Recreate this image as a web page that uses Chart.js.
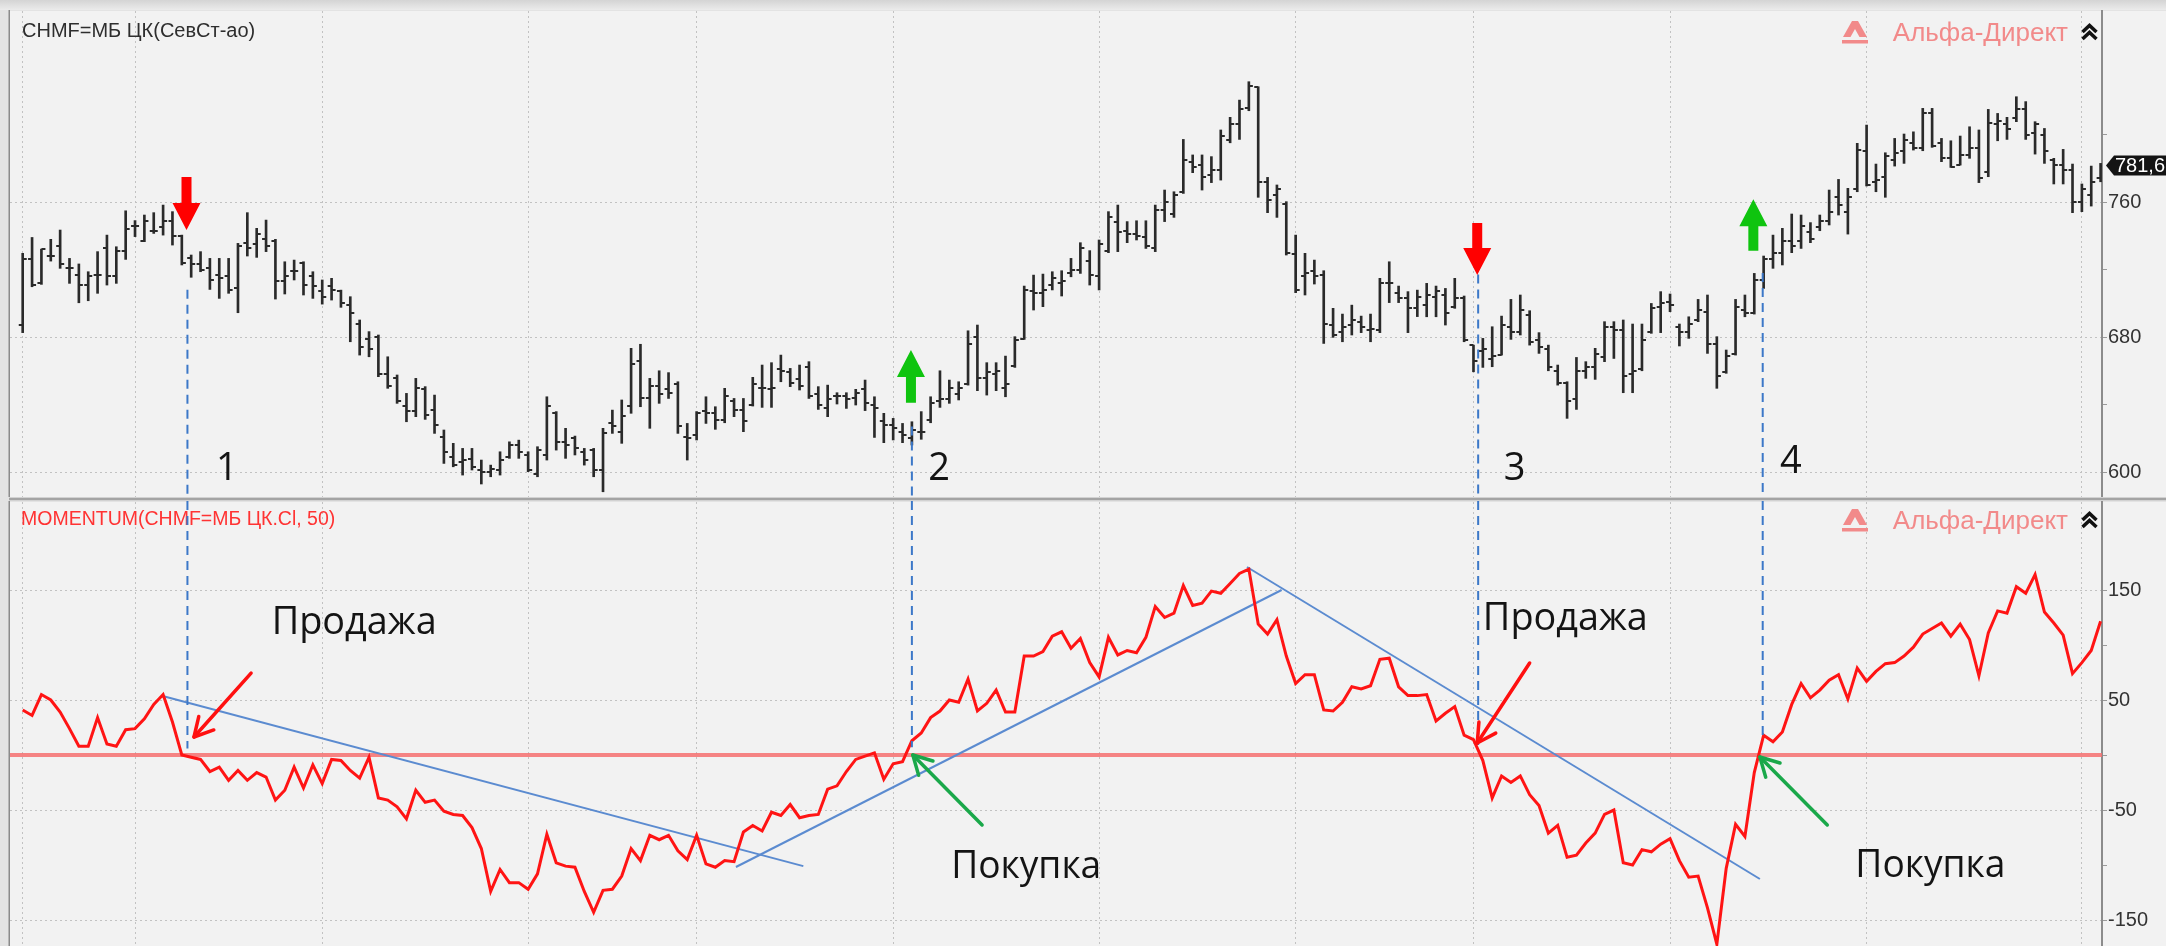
<!DOCTYPE html>
<html lang="ru">
<head>
<meta charset="utf-8">
<title>CHMF Momentum</title>
<script src="https://cdn.jsdelivr.net/npm/chart.js@4.4.1/dist/chart.umd.min.js"></script>
<style>
  html, body { margin:0; padding:0; }
  body { width:2166px; height:946px; overflow:hidden; background:#e3e3e3; position:relative; }
  #strip { position:absolute; left:0; top:0; width:2166px; height:10px; background:linear-gradient(#d4d4d4,#ebebeb); }
  #cTop { position:absolute; left:0; top:0; }
  #cBot { position:absolute; left:0; top:501px; }
  #sep { position:absolute; left:9px; top:497px; width:2157px; height:4px;
         background:linear-gradient(#d2d2d2 0 25%, #a4a4a4 25% 75%, #d2d2d2 75% 100%); }
</style>
</head>
<body>
<div id="strip"></div>
<canvas id="cTop" width="2166" height="498"></canvas>
<div id="sep"></div>
<canvas id="cBot" width="2166" height="445"></canvas>
<script>
// ---------------- DATA ----------------
const highs = [729.6,739.0,732.1,737.9,743.4,726.6,723.3,718.7,730.6,740.4,
733.5,754.8,749.0,752.3,753.7,758.2,754.3,740.4,728.6,730.6,
726.6,726.6,726.6,735.5,753.7,744.4,749.3,737.9,724.6,725.6,
724.6,718.7,713.8,714.8,707.8,703.9,690.1,683.2,681.2,668.3,
657.5,646.6,655.5,650.6,645.6,624.9,617.0,614.0,614.0,607.1,
604.1,612.0,617.9,618.9,612.0,615.0,644.6,635.8,625.9,621.3,
614.0,614.0,625.9,636.7,642.7,673.3,675.7,655.5,660.0,658.9,
653.5,628.8,635.8,644.6,638.7,649.6,643.6,643.6,656.1,663.4,
664.8,669.3,661.4,663.4,665.4,650.6,651.5,647.0,647.0,649.0,
654.5,644.6,634.8,631.8,628.8,629.8,635.8,644.6,660.0,654.5,
653.5,683.7,687.1,664.8,664.8,668.7,680.2,710.2,716.7,717.3,
718.7,719.3,726.6,735.9,731.2,737.5,754.3,758.2,748.4,748.9,
748.9,758.2,767.1,766.1,797.1,787.9,787.9,786.9,802.7,810.2,
820.4,831.3,828.3,774.6,770.1,760.2,740.4,729.6,725.6,719.3,
697.0,693.6,698.9,692.4,693.6,714.8,724.6,710.2,706.9,707.8,
711.8,710.2,708.8,714.8,704.3,675.2,679.2,686.1,692.4,702.3,
704.9,695.6,682.6,675.2,663.4,653.5,667.9,665.4,673.3,689.1,
689.1,690.1,687.7,687.7,699.9,706.9,705.5,687.7,692.0,702.3,
704.9,680.2,672.3,702.3,704.9,717.7,728.0,740.4,744.4,752.9,
752.3,747.8,752.3,767.1,773.4,768.1,794.8,805.6,782.5,789.2,
797.7,800.3,801.6,815.5,815.5,797.7,796.3,799.1,804.6,802.7,
814.9,812.5,810.2,822.4,819.5,807.6,803.6,785.9,791.2,782.5,
770.7,781.3,782.9];

const lows = [682.6,709.8,711.2,725.0,720.7,711.8,700.3,701.5,705.9,710.8,
711.8,726.0,739.5,736.5,741.4,740.4,734.5,722.7,715.4,718.7,
708.2,702.9,705.9,694.4,728.0,727.2,730.6,702.5,705.5,713.8,
704.9,702.9,699.5,701.9,697.6,677.2,669.3,668.3,656.5,649.6,
640.7,629.8,632.8,631.2,622.9,605.1,603.1,598.2,601.2,592.9,
597.2,598.2,608.1,608.1,600.2,597.2,607.1,613.0,608.1,610.1,
604.1,597.2,588.3,622.9,617.0,634.8,638.7,625.9,640.7,643.6,
622.9,607.1,619.0,628.8,625.3,629.2,632.8,623.9,639.1,638.3,
638.3,653.5,650.6,648.6,643.6,637.1,632.8,640.3,637.7,639.7,
636.4,620.5,617.4,619.0,617.4,616.0,619.4,629.2,638.3,640.7,
642.7,651.5,648.2,645.6,648.2,644.6,662.0,678.6,696.0,698.0,
707.9,704.3,715.7,717.7,710.8,707.9,730.0,730.6,735.9,737.5,
732.5,730.6,748.4,750.9,765.1,777.4,767.1,771.5,773.0,795.1,
797.1,814.1,762.8,753.7,750.9,728.6,706.3,704.9,711.4,676.2,
679.8,677.2,681.2,682.6,677.2,682.6,700.4,700.4,682.6,692.1,
692.0,692.0,687.1,697.0,677.2,659.4,662.0,662.4,669.3,678.6,
681.2,675.2,670.3,660.0,651.5,631.8,637.1,655.5,654.9,665.4,
667.3,647.0,647.0,660.0,682.2,682.6,695.0,674.7,679.2,689.1,
670.3,649.6,658.5,669.3,692.0,693.6,708.8,720.7,722.7,730.0,
732.5,735.9,743.0,746.4,752.3,741.0,766.1,769.5,766.1,762.8,
781.3,782.9,790.8,790.4,792.4,783.9,780.5,781.9,785.9,771.5,
775.0,796.3,797.1,807.6,797.1,788.4,782.9,770.7,770.7,753.7,
754.3,757.6,772.0];

const opens = [687,726,712,728,734,721,717,711,717,733,
716,731,746,737,743,745,749,740,727,723,
721,717,716,709,736,735,738,737,713,719,
724,716,707,710,707,699,688,679,680,658,
656,639,636,649,637,621,609,606,608,601,
600,601,609,616,610,599,610,635,618,620,
612,613,601,629,624,639,666,644,651,649,
652,621,622,636,635,631,642,637,640,650,
649,661,659,655,662,646,638,645,645,644,
649,640,630,628,624,620,624,631,642,643,
646,652,680,656,658,650,663,679,707,706,
711,712,718,720,725,716,731,748,743,741,
739,733,755,753,766,784,782,776,779,797,
806,816,828,772,764,759,729,716,719,717,
687,683,687,689,684,684,712,706,703,697,
699,704,705,698,703,675,672,667,669.5,686,
683,693,678,673,660,653,643,660,662,668,
686,684,658,661,683,698,701,686,683,690,
695,676,659,670,696,694,714,726,730,737,
737,742,745,749,763,754,768,790,772,775,
785,790,795,792,813,795,786,782,788,792,
778,806,806,810,815,801,800,785,782,779,
760,764,774];

const closes = [726,711,732,728,723,721,711,716,717,716,
731,744,746,749,743,749,740,724,723,720,
714,715,708,734,733,741,734,713,716,719,
711,710,704,708,700,694,674,673,658,651,
642,636,650,634,628,612,604,607,603,600,
602,607,616,612,601,613,639,618,616,614,
607,601,623,627,633,664,644,651,646,647,
627,620,635,635,631,645,637,630,652,650,
650,660,653,651,645,640,643,645,643,647,
641,638,628,626,622,625,624,641,643,650,
650,676,656,659,660,652,678,708,706,708,
715,713,720,733,717,735,751,742,741,740,
734,755,760,764,785,781,775,779,799,806,
815,829,772,761,768,730,708,718,716,688,
681,686,690,686,685,712,712,703,697,704,
705,707,694,703,678,666,673,669,687,683,
696,677,674,662,653,642,660,662,670,686,
684,657,660,678,697,700,699,683,688,696,
676,657,669,698,694,714,726,730,737,734,
746,738,749,754,758,763,791,770,773,787,
789,797,792,813,793,786,781,788,792,774,
807,808,803,815,800,806,790,782,779,760,
768,772,781.6];

const momentum = [41,36,55,50,39,24,8,8,34,10,
8,23,24,33,46,55,30,0,-2,-4,
-15,-11,-23,-14,-23,-16,-20,-41,-32,-11,
-30,-9,-26,-4,-5,-14,-21,-2,-39,-41,
-47,-58,-32,-43,-41,-51,-54,-55,-66,-85,
-124,-104,-116,-116,-122,-108,-72,-98,-101,-102,
-124,-143,-123,-122,-110,-85,-96,-73,-77,-73,
-87,-95,-73,-99,-102,-96,-97,-70,-64,-69,
-52,-55,-45,-57,-55,-54,-31,-28,-15,-4,
-1,2,-22,-8,-6,13,20,34,40,50,
48,69,40,47,59,39,39,90,90,94,
108,112,97,106,84,71,107,91,95,93,
107,135,125,129,154,136,138,149,147,156,
165,169,119,110,123,90,65,73,73,41,
40,48,62,60,63,87,88,62,54,54,
55,31,38,44,18,14,-5,-39,-19,-25,
-19,-36,-46,-71,-64,-93,-91,-80,-71,-54,
-50,-98,-100,-86,-88,-81,-76,-96,-111,-110,
-139,-172,-103,-63,-74,-16,18,12,21,46,
65,52,59,68,73,51,79,67,76,83,
84,90,98,110,115,120,108,119,105,72,
111,131,129,153,147,164,130,120,109,74,
84,95,121.6];

const monthStarts = [0,12,32,54,72,93,115,136,155,176,197,220];
const priceTicks = [600,640,680,720,760,800];
const priceLabels = [600,680,760];
const momTicks = [-150,-100,-50,0,50,100,150];
const momLabels = [-150,-50,50,150];
const zeroLevel = 0;
const lastPrice = 781.6;

// annotation anchors (index, value)
const signalIdx    = [17.6, 95.0, 155.5, 185.9];
const signalPrice  = [708, 627, 717, 718];   // dashed line start in price panel
const signalMom    = [6, 7, 9, 16];          // dashed line end in momentum panel
const blockArrows  = [
  {i:17.5,  tip:743.4, tail:774.8, up:false},
  {i:94.9,  tip:672.3, tail:641.0, up:true},
  {i:155.4, tip:716.7, tail:747.6, up:false},
  {i:184.9, tip:761.6, tail:731.1, up:true}
];
const numLabels = [
  {t:'1', i:21.8, v:595.3}, {t:'2', i:97.9, v:595.3},
  {t:'3', i:159.4, v:595.3}, {t:'4', i:188.9, v:599.4}
];
const trendA = [{x:14.95, y:53.6}, {x:83.4, y:-101}];
const trendB = [{x:76.2, y:-101.8}, {x:134.5, y:150}];
const trendC = [{x:130.8, y:170.9}, {x:185.6, y:-112.7}];
const sellArrows = [{x1:24.4, y1:74.5, x2:18.3, y2:16.4}, {x1:161.0, y1:83.6, x2:155.4, y2:10.9}];
const buyArrows  = [{x1:102.5, y1:-63.6, x2:95.1, y2:0}, {x1:192.8, y1:-63.6, x2:185.6, y2:-1.8}];
const sellTexts = [{i:26.6, v:110}, {i:156.0, v:113.6}];
const buyTexts  = [{i:99.2, v:-111.8}, {i:195.8, v:-110.9}];

// ---------------- helpers ----------------
const X_MIN = -1.357, X_MAX = 222.15;
const GRID = '#c2c2c2';
const PANEL = '#f2f2f2';

function makeTick(side){
  const c = document.createElement('canvas'); c.width = 10; c.height = 2;
  const g = c.getContext('2d'); g.fillStyle = '#2a2a2a';
  g.fillRect(side < 0 ? 1 : 5, 0, 4, 2);
  return c;
}
const tickL = makeTick(-1), tickR = makeTick(1);

function fitText(ctx, text, x, y, w){
  const m = ctx.measureText(text).width;
  ctx.save(); ctx.translate(x, y); ctx.scale(w / m, 1); ctx.fillText(text, 0, 0); ctx.restore();
}

function drawLogo(ctx, b){
  ctx.save();
  const pink = '#f28a8a';
  ctx.fillStyle = pink;
  // stylised "A"
  ctx.beginPath(); ctx.moveTo(1852, b - 20); ctx.lineTo(1858, b - 20); ctx.lineTo(1867, b - 4);
  ctx.lineTo(1843, b - 4); ctx.closePath(); ctx.fill();
  ctx.fillStyle = PANEL;
  ctx.beginPath(); ctx.moveTo(1855, b - 12); ctx.lineTo(1859.5, b - 4); ctx.lineTo(1850.5, b - 4); ctx.closePath(); ctx.fill();
  ctx.fillStyle = pink;
  ctx.fillRect(1842, b - 1, 26, 3.5);
  ctx.font = '26px "Liberation Sans", Arial, sans-serif';
  ctx.textAlign = 'right'; ctx.textBaseline = 'alphabetic';
  ctx.fillText('Альфа-Директ', 2068, b);
  ctx.strokeStyle = '#111'; ctx.lineWidth = 3.5;
  ctx.beginPath();
  ctx.moveTo(2082.5, b - 9); ctx.lineTo(2089.5, b - 15.5); ctx.lineTo(2096.5, b - 9);
  ctx.moveTo(2082.5, b - 2); ctx.lineTo(2089.5, b - 8.5); ctx.lineTo(2096.5, b - 2);
  ctx.stroke();
  ctx.restore();
}

function drawThinArrow(ctx, x1, y1, x2, y2, color){
  ctx.save();
  ctx.strokeStyle = color; ctx.lineWidth = 3.5; ctx.lineCap = 'round'; ctx.lineJoin = 'round';
  ctx.beginPath(); ctx.moveTo(x1, y1); ctx.lineTo(x2, y2); ctx.stroke();
  const ang = Math.atan2(y1 - y2, x1 - x2), L = 21, a = 0.5;
  ctx.beginPath();
  ctx.moveTo(x2 + L * Math.cos(ang + a), y2 + L * Math.sin(ang + a));
  ctx.lineTo(x2, y2);
  ctx.lineTo(x2 + L * Math.cos(ang - a), y2 + L * Math.sin(ang - a));
  ctx.stroke();
  ctx.restore();
}

function drawBlockArrow(ctx, cx, yTip, yTail, color){
  const dir = yTip > yTail ? 1 : -1;
  const hw = 14, sw = 5, hl = 27;
  const yNeck = yTip - dir * hl;
  ctx.save(); ctx.fillStyle = color;
  ctx.beginPath();
  ctx.moveTo(cx - sw, yTail); ctx.lineTo(cx + sw, yTail); ctx.lineTo(cx + sw, yNeck);
  ctx.lineTo(cx + hw, yNeck); ctx.lineTo(cx, yTip); ctx.lineTo(cx - hw, yNeck);
  ctx.lineTo(cx - sw, yNeck); ctx.closePath(); ctx.fill();
  ctx.restore();
}

const bgPlugin = {
  id: 'panelBg',
  beforeDraw(chart){
    const {ctx, chartArea: a} = chart;
    ctx.save();
    ctx.fillStyle = PANEL;
    ctx.fillRect(a.left, a.top, chart.width - a.left, a.bottom - a.top);
    ctx.fillStyle = '#8a8a8a';
    ctx.fillRect(a.left - 1.5, a.top - 1, 1.5, a.bottom - a.top + 1);
    ctx.restore();
  }
};

function xScale(){
  return {
    type: 'linear', min: X_MIN, max: X_MAX, offset: false,
    afterFit: s => { s.height = 0; s.paddingLeft = 0; s.paddingRight = 0; },
    afterBuildTicks: s => { s.ticks = monthStarts.map(v => ({value: v})); },
    ticks: {display: false},
    grid: {color: GRID, lineWidth: 1, drawTicks: false, offset: false},
    border: {display: false, dash: [2, 3]}
  };
}
function yScale(min, max, ticks, labels){
  return {
    position: 'right', min: min, max: max,
    afterFit: s => { s.width = 64; s.paddingTop = 0; s.paddingBottom = 0; },
    afterBuildTicks: s => { s.ticks = ticks.map(v => ({value: v})); },
    ticks: {
      callback: v => labels.includes(v) ? String(v) : '',
      color: '#333', padding: 1,
      font: {family: '"Liberation Sans", Arial, sans-serif', size: 20}
    },
    grid: {
      color: c => (c.tick && labels.includes(c.tick.value)) ? GRID : 'rgba(0,0,0,0)',
      tickColor: '#9a9a9a', tickLength: 5, lineWidth: 1, drawTicks: true
    },
    border: {display: true, color: '#8c8c8c', width: 2, dash: [2, 3]}
  };
}

// ---------------- top chart: price bars ----------------
const topAnnot = {
  id: 'topAnnot',
  afterDraw(chart){
    const {ctx, chartArea: a, scales: {x, y}} = chart;
    ctx.save();
    ctx.font = '20px "Liberation Sans", Arial, sans-serif';
    ctx.fillStyle = '#2e2e2e'; ctx.textAlign = 'left'; ctx.textBaseline = 'alphabetic';
    ctx.fillText('CHMF=МБ ЦК(СевСт-ао)', 22, 37);
    drawLogo(ctx, 41);
    ctx.strokeStyle = '#3c78c8'; ctx.lineWidth = 2; ctx.setLineDash([9, 6]);
    signalIdx.forEach((s, k) => {
      const px = x.getPixelForValue(s);
      ctx.beginPath(); ctx.moveTo(px, y.getPixelForValue(signalPrice[k])); ctx.lineTo(px, a.bottom + 1); ctx.stroke();
    });
    ctx.setLineDash([]);
    blockArrows.forEach(b => {
      drawBlockArrow(ctx, x.getPixelForValue(b.i), y.getPixelForValue(b.tip), y.getPixelForValue(b.tail),
                     b.up ? '#0fc40f' : '#ff0000');
    });
    ctx.font = '38px "Open Sans", "Noto Sans", sans-serif';
    ctx.fillStyle = '#141414'; ctx.textAlign = 'center';
    numLabels.forEach(n => ctx.fillText(n.t, x.getPixelForValue(n.i), y.getPixelForValue(n.v)));
    const ty = y.getPixelForValue(lastPrice);
    ctx.fillStyle = '#141414';
    ctx.beginPath();
    ctx.moveTo(2106, ty); ctx.lineTo(2114, ty - 10); ctx.lineTo(2166, ty - 10);
    ctx.lineTo(2166, ty + 10); ctx.lineTo(2114, ty + 10); ctx.closePath(); ctx.fill();
    ctx.fillStyle = '#ffffff'; ctx.textAlign = 'left'; ctx.textBaseline = 'middle';
    ctx.font = '20px "Liberation Sans", Arial, sans-serif';
    ctx.fillText('781,6', 2115, ty + 1);
    ctx.restore();
  }
};

new Chart(document.getElementById('cTop'), {
  type: 'bar',
  data: {
    datasets: [
      {type: 'scatter', data: opens.map((v, i) => ({x: i, y: v})), pointStyle: tickL, pointRadius: 3, order: 0},
      {type: 'scatter', data: closes.map((v, i) => ({x: i, y: v})), pointStyle: tickR, pointRadius: 3, order: 0},
      {type: 'bar', data: highs.map((h, i) => ({x: i, y: [lows[i], h]})), backgroundColor: '#2a2a2a',
       barThickness: 2, borderWidth: 0, order: 1}
    ]
  },
  options: {
    responsive: false, animation: false, devicePixelRatio: 1, events: [],
    layout: {autoPadding: false, padding: {left: 10, top: 11, right: 0, bottom: 1}},
    plugins: {legend: {display: false}, tooltip: {enabled: false}},
    scales: {x: xScale(), y: yScale(585.2, 873.2, priceTicks, priceLabels)}
  },
  plugins: [bgPlugin, topAnnot]
});

// ---------------- bottom chart: momentum ----------------
const botAnnot = {
  id: 'botAnnot',
  afterDraw(chart){
    const {ctx, chartArea: a, scales: {x, y}} = chart;
    ctx.save();
    ctx.font = '19.5px "Liberation Sans", Arial, sans-serif';
    ctx.fillStyle = '#ff3333'; ctx.textAlign = 'left'; ctx.textBaseline = 'alphabetic';
    ctx.fillText('MOMENTUM(CHMF=МБ ЦК.Cl, 50)', 21, 24);
    drawLogo(ctx, 28);
    ctx.strokeStyle = '#3c78c8'; ctx.lineWidth = 2; ctx.setLineDash([9, 6]);
    signalIdx.forEach((s, k) => {
      const px = x.getPixelForValue(s);
      ctx.beginPath(); ctx.moveTo(px, a.top - 1); ctx.lineTo(px, y.getPixelForValue(signalMom[k])); ctx.stroke();
    });
    ctx.setLineDash([]);
    sellArrows.forEach(r => drawThinArrow(ctx, x.getPixelForValue(r.x1), y.getPixelForValue(r.y1),
                                           x.getPixelForValue(r.x2), y.getPixelForValue(r.y2), '#ff1010'));
    buyArrows.forEach(r => drawThinArrow(ctx, x.getPixelForValue(r.x1), y.getPixelForValue(r.y1),
                                          x.getPixelForValue(r.x2), y.getPixelForValue(r.y2), '#1aa84a'));
    ctx.font = '38px "Open Sans", "Noto Sans", sans-serif';
    ctx.fillStyle = '#141414'; ctx.textAlign = 'left'; ctx.textBaseline = 'alphabetic';
    sellTexts.forEach(t => fitText(ctx, 'Продажа', x.getPixelForValue(t.i), y.getPixelForValue(t.v), 165));
    buyTexts.forEach(t => fitText(ctx, 'Покупка', x.getPixelForValue(t.i), y.getPixelForValue(t.v), 150));
    ctx.restore();
  }
};

new Chart(document.getElementById('cBot'), {
  type: 'line',
  data: {
    datasets: [
      {data: momentum.map((v, i) => ({x: i, y: v})), borderColor: '#ff1414', borderWidth: 3,
       pointRadius: 0, tension: 0, order: 0},
      {data: trendA, borderColor: '#5b8bd0', borderWidth: 2, pointRadius: 0, order: 1},
      {data: trendB, borderColor: '#5b8bd0', borderWidth: 2, pointRadius: 0, order: 1},
      {data: trendC, borderColor: '#5b8bd0', borderWidth: 2, pointRadius: 0, order: 1},
      {data: [{x: X_MIN, y: zeroLevel}, {x: X_MAX, y: zeroLevel}], borderColor: 'rgba(246,112,112,0.85)',
       borderWidth: 4, pointRadius: 0, order: 2}
    ]
  },
  options: {
    responsive: false, animation: false, devicePixelRatio: 1, events: [],
    layout: {autoPadding: false, padding: {left: 10, top: 1, right: 0, bottom: 0}},
    plugins: {legend: {display: false}, tooltip: {enabled: false}},
    scales: {x: xScale(), y: yScale(-173.6, 230, momTicks, momLabels)}
  },
  plugins: [bgPlugin, botAnnot]
});
</script>
</body>
</html>
